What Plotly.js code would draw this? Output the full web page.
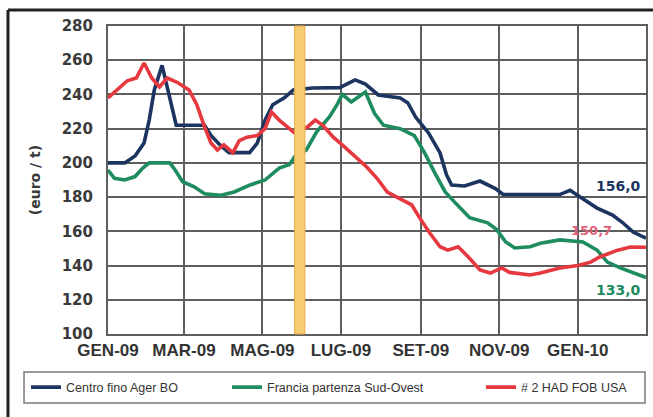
<!DOCTYPE html>
<html>
<head>
<meta charset="utf-8">
<script src="https://cdn.plot.ly/plotly-3.0.1.min.js"></script>
<style>
  html, body { margin: 0; padding: 0; background: #ffffff; }
  #chart { width: 653px; height: 417px; }
</style>
</head>
<body>
<div id="chart"></div>
<script>
// ---- Data ----
const seriesNames = ["Centro fino Ager BO", "Francia partenza Sud-Ovest", "# 2 HAD FOB USA"];

const centroDates = ["2009-01-01","2009-01-14","2009-01-22","2009-01-29","2009-02-02","2009-02-06","2009-02-12","2009-02-18","2009-02-23","2009-03-17","2009-03-22","2009-03-29","2009-04-05","2009-04-21","2009-04-27","2009-05-03","2009-05-09","2009-05-18","2009-05-25","2009-06-09","2009-06-15","2009-06-30","2009-07-12","2009-07-20","2009-07-30","2009-08-16","2009-08-22","2009-08-28","2009-09-07","2009-09-16","2009-09-21","2009-09-25","2009-10-05","2009-10-17","2009-10-29","2009-11-04","2009-12-18","2009-12-26","2010-01-04","2010-01-16","2010-01-28","2010-02-05","2010-02-13","2010-02-23"];
const centroValues = [200,200,204,211.6,225,242.6,257,237,222,222,216,210.5,206,206,211.6,225,234,238,242.6,243.8,244,244,248.5,246,239.7,238,235,226.8,217.5,205.8,193,187,186.5,189.4,185,181.5,181.5,184,179.5,173.6,169.5,165,159.6,156];

const franciaDates = ["2009-01-01","2009-01-06","2009-01-14","2009-01-22","2009-01-28","2009-02-02","2009-02-18","2009-02-22","2009-02-28","2009-03-09","2009-03-17","2009-03-29","2009-04-09","2009-04-21","2009-05-03","2009-05-14","2009-05-22","2009-05-27","2009-06-04","2009-06-12","2009-06-22","2009-06-28","2009-07-02","2009-07-09","2009-07-20","2009-07-27","2009-08-03","2009-08-16","2009-08-27","2009-09-04","2009-09-12","2009-09-20","2009-09-28","2009-10-09","2009-10-23","2009-10-30","2009-11-06","2009-11-13","2009-11-25","2009-12-03","2009-12-18","2010-01-05","2010-01-16","2010-01-24","2010-02-03","2010-02-13","2010-02-23"];
const franciaValues = [195.8,191,190,192,197,200,200,196,189,186,182,181,183,187,190,197,199,204.6,207.5,218,226.8,234,240,235.6,241.4,229,222,220,216,205.8,194,183,176.5,168,165,161,153.8,150.3,151,153,155,153.8,149,142,138.6,136,133];

const hadDates = ["2009-01-01","2009-01-10","2009-01-16","2009-01-23","2009-01-29","2009-02-04","2009-02-10","2009-02-16","2009-02-24","2009-03-05","2009-03-11","2009-03-17","2009-03-22","2009-03-27","2009-04-01","2009-04-08","2009-04-13","2009-04-19","2009-04-27","2009-05-03","2009-05-08","2009-05-14","2009-05-22","2009-05-26","2009-06-05","2009-06-11","2009-06-17","2009-06-25","2009-07-02","2009-07-12","2009-07-21","2009-07-29","2009-08-06","2009-08-16","2009-08-25","2009-08-31","2009-09-08","2009-09-16","2009-09-22","2009-09-30","2009-10-08","2009-10-17","2009-10-25","2009-11-03","2009-11-09","2009-11-25","2009-12-03","2009-12-18","2010-01-01","2010-01-11","2010-01-18","2010-02-01","2010-02-11","2010-02-23"];
const hadValues = [238,243.8,248,249.6,258.4,249.6,244.4,249.6,247,242.6,234,221,211.6,207.5,210.5,206,213,215,216,220,229.7,225,220,217.5,221,225,222,215,210.5,203.5,197.6,191,183,179,175.4,168,159,151,149,151,145,137.4,135.6,138.6,136,134.5,135.6,138.6,140,142,145,149,150.8,150.7];

const tickDates = ["2009-01-01","2009-03-01","2009-05-01","2009-07-01","2009-09-01","2009-11-01","2010-01-01"];
const tickLabels = ["GEN-09","MAR-09","MAG-09","LUG-09","SET-09","NOV-09","GEN-10"];

const endLabels = ["156,0", "133,0", "150,7"];
const endValues = [156.0, 133.0, 150.7];

const highlightStart = "2009-05-26";
const highlightEnd = "2009-06-03";

// ---- Styles ----
const colors = ["#1b3560", "#1f8c5f", "#e6383f"];
const gridColor = "#5e5e5e";
const legendFont = { family: "Liberation Sans Narrow, Liberation Sans, sans-serif", size: 12.5, color: "#333333" };

const traces = [
  { x: franciaDates, y: franciaValues, name: seriesNames[1], legend: "legend2",
    mode: "lines", line: { color: colors[1], width: 3.6 } },
  { x: centroDates, y: centroValues, name: seriesNames[0], legend: "legend",
    mode: "lines", line: { color: colors[0], width: 3.6 } },
  { x: hadDates, y: hadValues, name: seriesNames[2], legend: "legend3",
    mode: "lines", line: { color: colors[2], width: 3.6 } }
];

function legendAt(xPaper) {
  return { orientation: "h", x: xPaper, xanchor: "left", y: -0.1737, yanchor: "middle",
           font: legendFont, bgcolor: "rgba(0,0,0,0)" };
}

const layout = {
  width: 653, height: 417,
  margin: { l: 108, r: 7, t: 26, b: 83 },
  paper_bgcolor: "#ffffff",
  plot_bgcolor: "#ffffff",
  showlegend: true,
  legend: legendAt(-0.1524),
  legend2: legendAt(0.2212),
  legend3: legendAt(0.6933),
  xaxis: {
    type: "date",
    range: ["2009-01-01", "2010-02-23"],
    tickmode: "array",
    tickvals: tickDates,
    ticktext: tickLabels,
    showgrid: true, gridcolor: gridColor, gridwidth: 2,
    showline: true, linecolor: gridColor, linewidth: 2, mirror: true,
    zeroline: false,
    ticks: "",
    tickfont: { family: "Liberation Sans Narrow, Liberation Sans, sans-serif", size: 17, color: "#333333", weight: "bold" }
  },
  yaxis: {
    range: [100, 280],
    dtick: 20, tick0: 100,
    showgrid: true, gridcolor: gridColor, gridwidth: 2,
    showline: true, linecolor: gridColor, linewidth: 2, mirror: true,
    zeroline: false,
    ticks: "",
    ticklabelstandoff: 10,
    tickfont: { family: "DejaVu Sans, sans-serif", size: 15, color: "#3a3a3a", weight: "bold" },
    title: { text: "(euro / t)", standoff: 18,
      font: { family: "DejaVu Sans, sans-serif", size: 14, color: "#3a3a3a", weight: "bold" } }
  },
  shapes: [
    { type: "rect", xref: "x", yref: "paper", x0: highlightStart, x1: highlightEnd, y0: 0, y1: 1,
      fillcolor: "#f6cd72", line: { color: "#e9ad45", width: 1 }, layer: "above" },
    { type: "line", xref: "paper", yref: "paper", x0: -0.1859, x1: 1.02, y0: 1.0519, y1: 1.0519,
      line: { color: "#222222", width: 3 } },
    { type: "line", xref: "paper", yref: "paper", x0: -0.1859, x1: -0.1859, y0: 1.0519, y1: -0.28,
      line: { color: "#222222", width: 3 } },
    { type: "rect", xref: "paper", yref: "paper", x0: -0.1561, x1: 0.9981, y0: -0.1234, y1: -0.2240,
      line: { color: "#7a7a7a", width: 1.5 }, fillcolor: "rgba(0,0,0,0)" }
  ],
  annotations: [
    { xref: "paper", x: 0.995, xanchor: "right", yref: "y", y: 186.5, yanchor: "middle",
      text: endLabels[0], showarrow: false,
      font: { family: "DejaVu Sans, sans-serif", size: 14, color: colors[0], weight: "bold" } },
    { xref: "paper", x: 0.995, xanchor: "right", yref: "y", y: 125.7, yanchor: "middle",
      text: endLabels[1], showarrow: false,
      font: { family: "DejaVu Sans, sans-serif", size: 14, color: colors[1], weight: "bold" } },
    { xref: "paper", x: 0.94, xanchor: "right", yref: "y", y: 160.2, yanchor: "middle",
      text: endLabels[2], showarrow: false,
      font: { family: "DejaVu Sans, sans-serif", size: 13, color: "#e0607a", weight: "bold" } }
  ]
};

Plotly.newPlot("chart", traces, layout, { displayModeBar: false, staticPlot: true });
</script>
</body>
</html>
